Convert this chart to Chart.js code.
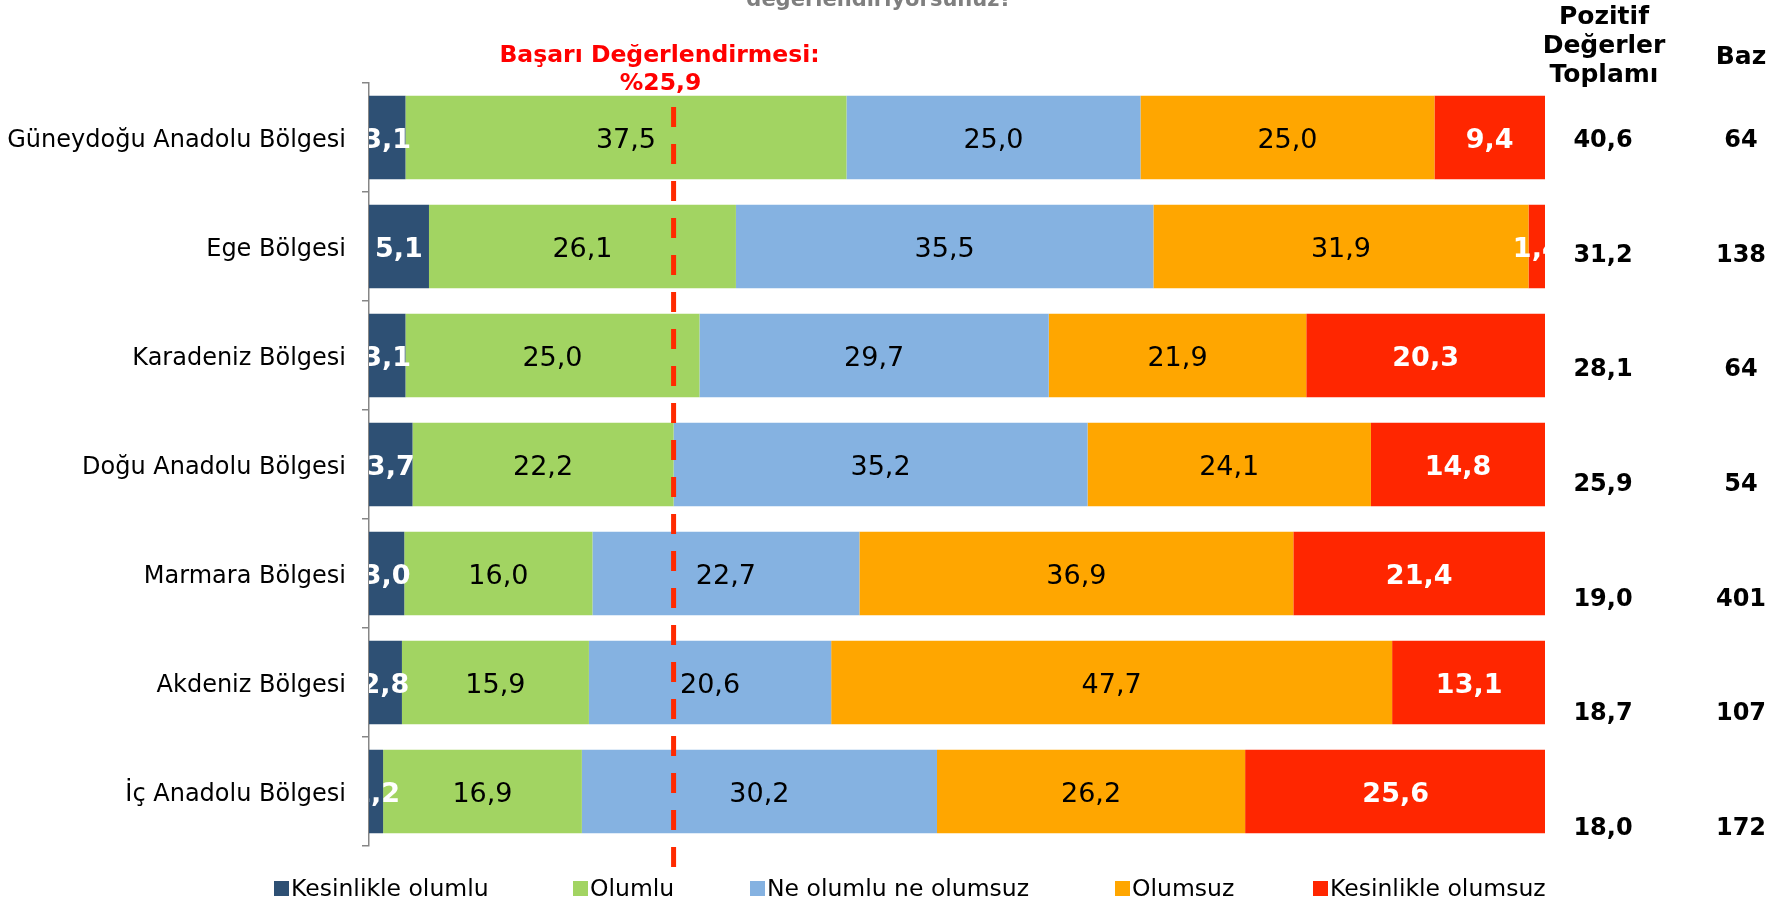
<!DOCTYPE html>
<html>
<head>
<meta charset="utf-8">
<script src="https://cdn.jsdelivr.net/npm/chart.js@4/dist/chart.umd.min.js"></script>
<style>
  html, body { margin: 0; padding: 0; background: #ffffff; }
  #wrap { position: relative; width: 1790px; height: 905px; }
</style>
</head>
<body>
<div id="wrap"><canvas id="c" width="1790" height="905"></canvas></div>
<script>
const categories = [
  "Güneydoğu Anadolu Bölgesi",
  "Ege Bölgesi",
  "Karadeniz Bölgesi",
  "Doğu Anadolu Bölgesi",
  "Marmara Bölgesi",
  "Akdeniz Bölgesi",
  "İç Anadolu Bölgesi"
];
const seriesNames = ["Kesinlikle olumlu", "Olumlu", "Ne olumlu ne olumsuz", "Olumsuz", "Kesinlikle olumsuz"];
const kesinlikleOlumlu  = [3.1, 5.1, 3.1, 3.7, 3.0, 2.8, 1.2];
const olumlu            = [37.5, 26.1, 25.0, 22.2, 16.0, 15.9, 16.9];
const neOlumluNeOlumsuz = [25.0, 35.5, 29.7, 35.2, 22.7, 20.6, 30.2];
const olumsuz           = [25.0, 31.9, 21.9, 24.1, 36.9, 47.7, 26.2];
const kesinlikleOlumsuz = [9.4, 1.4, 20.3, 14.8, 21.4, 13.1, 25.6];
const pozitifToplam     = ["40,6", "31,2", "28,1", "25,9", "19,0", "18,7", "18,0"];
const baz               = ["64", "138", "64", "54", "401", "107", "172"];
const basariDegeri = 25.9;
const basariLabel1 = "Başarı Değerlendirmesi:";
const basariLabel2 = "%25,9";
const titleTail = "değerlendiriyorsunuz?";
const headerPozitif = ["Pozitif", "Değerler", "Toplamı"];
const headerBaz = "Baz";

const colors = ["#2E5074", "#A2D462", "#85B2E1", "#FFA600", "#FF2600"];
const FONT = "'DejaVu Sans', Verdana, sans-serif";

const seriesValues = [kesinlikleOlumlu, olumlu, neOlumluNeOlumsuz, olumsuz, kesinlikleOlumsuz];
const datasets = seriesValues.map((vals, i) => ({
  label: seriesNames[i],
  data: vals,
  backgroundColor: colors[i],
  borderWidth: 0,
  barPercentage: 0.765,
  categoryPercentage: 1.0
}));

const fmt = v => v.toFixed(1).replace('.', ',');

const overlay = {
  id: 'overlay',
  afterDatasetsDraw(chart) {
    const ctx = chart.ctx;
    const area = chart.chartArea;
    ctx.save();
    ctx.beginPath();
    ctx.rect(area.left, area.top, area.right - area.left, area.bottom - area.top);
    ctx.clip();
    chart.data.datasets.forEach((ds, di) => {
      const meta = chart.getDatasetMeta(di);
      const white = (di === 0 || di === 4);
      ctx.font = (white ? 'bold ' : '') + '27px ' + FONT;
      ctx.fillStyle = white ? '#ffffff' : '#000000';
      ctx.textAlign = 'center';
      ctx.textBaseline = 'middle';
      meta.data.forEach((el, i) => {
        const cx = (el.x + el.base) / 2;
        ctx.fillText(fmt(ds.data[i]), cx, el.y + 3);
      });
    });
    ctx.restore();

    const xs = chart.scales.x;
    const lx = xs.getPixelForValue(basariDegeri);
    ctx.save();
    ctx.strokeStyle = '#FF2A00';
    ctx.lineWidth = 5;
    ctx.setLineDash([20, 17]);
    ctx.beginPath();
    ctx.moveTo(lx, 107);
    ctx.lineTo(lx, 873);
    ctx.stroke();
    ctx.restore();
  },
  afterDraw(chart) {
    const ctx = chart.ctx;
    const ys = chart.scales.y;
    const xs = chart.scales.x;
    ctx.save();
    ctx.fillStyle = '#7F7F7F';
    ctx.font = 'bold 21px ' + FONT;
    ctx.textAlign = 'center';
    ctx.textBaseline = 'alphabetic';
    ctx.fillText(titleTail, 879, 6);

    const lx = xs.getPixelForValue(basariDegeri);
    ctx.fillStyle = '#FF0000';
    ctx.font = 'bold 23.5px ' + FONT;
    ctx.textBaseline = 'middle';
    ctx.fillText(basariLabel1, lx - 14, 56);
    ctx.fillText(basariLabel2, lx - 13, 84);

    ctx.fillStyle = '#000000';
    ctx.font = 'bold 25px ' + FONT;
    headerPozitif.forEach((t, i) => ctx.fillText(t, 1604, 17 + i * 29));
    ctx.fillText(headerBaz, 1741, 57);

    ctx.font = 'bold 24px ' + FONT;
    categories.forEach((c, i) => {
      const y = ys.getPixelForValue(i) + 2.5 + 5.6 * i;
      ctx.fillText(pozitifToplam[i], 1603, y + 1);
      ctx.fillText(baz[i], 1741, y + 1);
    });

    ctx.font = '23.5px ' + FONT;
    ctx.textAlign = 'left';
    const boxX = [274, 573, 750, 1115, 1313];
    const ly = 889;
    chart.data.datasets.forEach((ds, i) => {
      const x = boxX[i];
      ctx.fillStyle = ds.backgroundColor;
      ctx.fillRect(x, ly - 8, 15, 15);
      ctx.fillStyle = '#000000';
      ctx.fillText(ds.label, x + 17, ly + 1);
    });
    ctx.restore();
  }
};

new Chart(document.getElementById('c'), {
  type: 'bar',
  data: { labels: categories, datasets },
  options: {
    indexAxis: 'y',
    responsive: false,
    animation: false,
    devicePixelRatio: 1,
    layout: { padding: { top: 83, bottom: 59, left: 0, right: 245 } },
    plugins: { legend: { display: false }, tooltip: { enabled: false }, title: { display: false } },
    scales: {
      x: {
        stacked: true, min: 0, max: 100, display: false
      },
      y: {
        stacked: true,
        afterFit(scale) { scale.width = 369; },
        grid: { offset: true, drawOnChartArea: false, tickLength: 7, color: '#868686', lineWidth: 1.5 },
        border: { display: true, color: '#868686', width: 1.5 },
        ticks: { color: '#000000', font: { family: FONT, size: 24 }, padding: 16, labelOffset: 3 }
      }
    }
  },
  plugins: [overlay]
});
</script>
</body>
</html>
